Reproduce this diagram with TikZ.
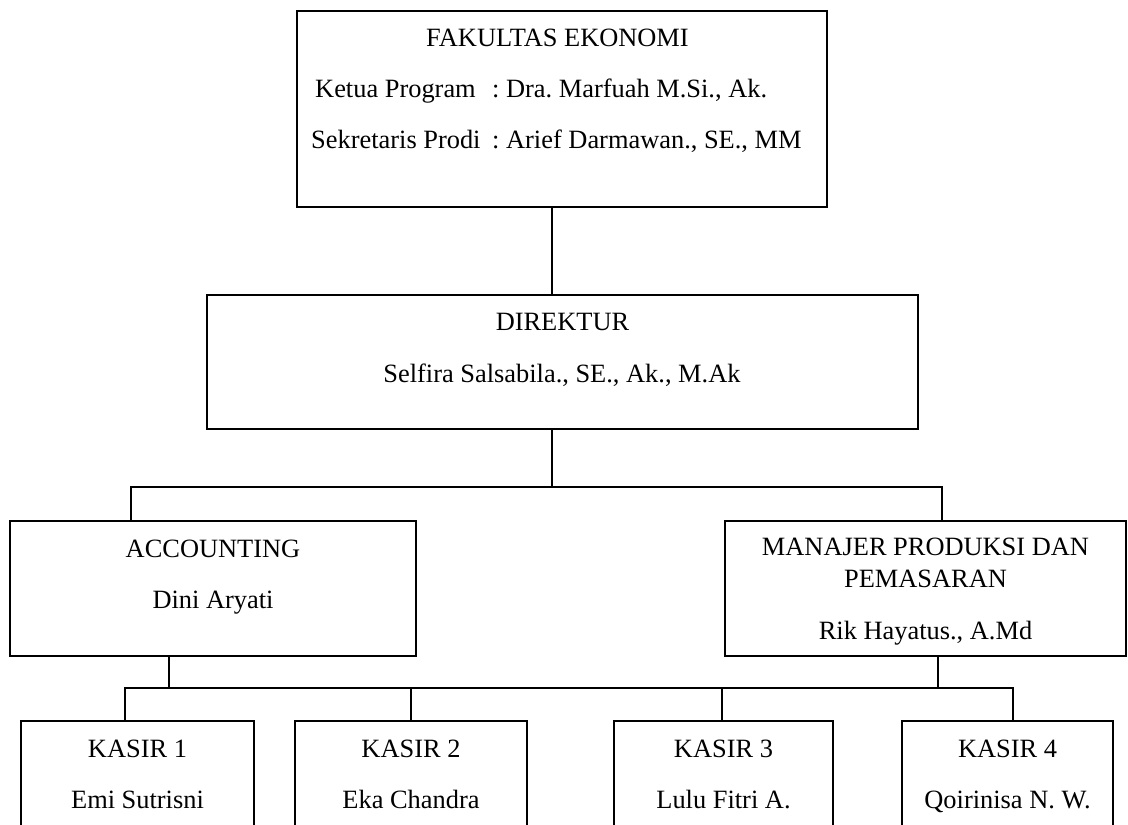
\documentclass[tikz,border=0pt]{standalone}
\usepackage{fontspec}
\setmainfont{Liberation Serif}
\frenchspacing
\begin{document}
\begin{tikzpicture}[x=1pt,y=-1pt,
  box/.style={draw, line width=1.5pt, rectangle, inner sep=0pt},
  conn/.style={line width=1.5pt},
  lbl/.style={anchor=base, inner sep=0pt, font=\fontsize{26.4}{30}\selectfont}]
\clip (0,0) rectangle (1128,825);
% boxes
\node[box, minimum width=530pt, minimum height=196pt] (fak) at (562,109) {};
\node[box, minimum width=711pt, minimum height=134pt] (dir) at (562.5,362) {};
\node[box, minimum width=406pt, minimum height=135pt] (acc) at (213,588.5) {};
\node[box, minimum width=401pt, minimum height=135pt] (man) at (925.5,588.5) {};
\node[box, minimum width=233pt, minimum height=160pt] (k1) at (137.5,801) {};
\node[box, minimum width=232pt, minimum height=160pt] (k2) at (411,801) {};
\node[box, minimum width=219pt, minimum height=160pt] (k3) at (723.5,801) {};
\node[box, minimum width=211pt, minimum height=160pt] (k4) at (1007.5,801) {};
% texts
\node[lbl] (fakt) at (557.5,46) {FAKULTAS EKONOMI};
\node[lbl, anchor=base west] (kpa) at (315,97) {Ketua Program};
\node[lbl, anchor=base west] (kpb) at (492,97) {: Dra. Marfuah M.Si., Ak.};
\node[lbl, anchor=base west] (spa) at (311,148) {Sekretaris Prodi};
\node[lbl, anchor=base west] (spb) at (492,148) {: Arief Darmawan., SE., MM};
\node[lbl] (dirt) at (562.5,330) {DIREKTUR};
\node[lbl] (dirn) at (562,382) {Selfira Salsabila., SE., Ak., M.Ak};
\node[lbl] (acct) at (213,557) {ACCOUNTING};
\node[lbl] (accn) at (213,608) {Dini Aryati};
\node[lbl] (mant1) at (925.5,555) {MANAJER PRODUKSI DAN};
\node[lbl] (mant2) at (925.5,587) {PEMASARAN};
\node[lbl] (mann) at (925.5,639) {Rik Hayatus., A.Md};
\node[lbl] (k1t) at (137.5,757) {KASIR 1};
\node[lbl] (k1n) at (137.5,808) {Emi Sutrisni};
\node[lbl] (k2t) at (411,757) {KASIR 2};
\node[lbl] (k2n) at (411,808) {Eka Chandra};
\node[lbl] (k3t) at (723.5,757) {KASIR 3};
\node[lbl] (k3n) at (723.5,808) {Lulu Fitri A.};
\node[lbl] (k4t) at (1007.5,757) {KASIR 4};
\node[lbl] (k4n) at (1007.5,808) {Qoirinisa N. W.};
% connector coordinates
\coordinate (trunk) at (552,0);
\coordinate (bus) at (0,487);
\coordinate (kbus) at (0,688);
\coordinate (ax) at (131,0);
\coordinate (mx) at (942,0);
\coordinate (ad) at (169,0);
\coordinate (md) at (938,0);
\coordinate (k1x) at (125,0);
\coordinate (k3x) at (722,0);
\coordinate (k4x) at (1013,0);
% connectors
\draw[conn] (fak.south -| trunk) -- (dir.north -| trunk);
\draw[conn] (dir.south -| trunk) -- (trunk |- bus);
\draw[conn] (acc.north -| ax) -- (ax |- bus) -- (mx |- bus) -- (man.north -| mx);
\draw[conn] (acc.south -| ad) -- (ad |- kbus);
\draw[conn] (man.south -| md) -- (md |- kbus);
\draw[conn] (k1.north -| k1x) -- (k1x |- kbus) -- (k4x |- kbus) -- (k4.north -| k4x);
\draw[conn] (k2.north) -- (k2.north |- kbus);
\draw[conn] (k3.north -| k3x) -- (k3x |- kbus);
\end{tikzpicture}
\end{document}
